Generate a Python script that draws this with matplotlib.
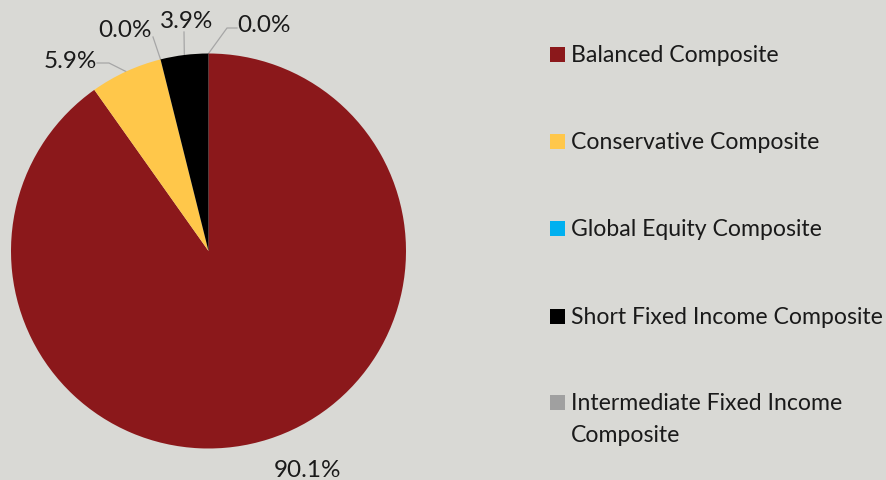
import numpy as np
import matplotlib
matplotlib.use('Agg')
import matplotlib.pyplot as plt
from matplotlib.patches import Rectangle

plt.rcParams['font.family'] = ['Lato', 'DejaVu Sans']

# Data
categories = ['Balanced Composite', 'Conservative Composite', 'Global Equity Composite',
              'Short Fixed Income Composite', 'Intermediate Fixed Income\nComposite']
shares = [90.1, 5.9, 0.0, 3.9, 0.0]
colors = ['#8b181b', '#ffc74a', '#00b0f0', '#000000', '#a0a0a0']

bg = '#d9d9d5'
fig = plt.figure(figsize=(8.87, 4.81), dpi=100, facecolor=bg)

# pie axes: centre ~ (208, 252) px, radius ~197 px
W, H = 887, 481
cx, cy, r = 208.5, 252, 197.5
ax = fig.add_axes([(cx - r) / W, (H - cy - r) / H, 2 * r / W, 2 * r / H])
ax.set_facecolor(bg)
wedges, _ = ax.pie(shares, colors=colors, startangle=90, counterclock=False,
                   radius=1, wedgeprops=dict(linewidth=0))
ax.set_xlim(-1, 1)
ax.set_ylim(-1, 1)
ax.set_aspect('equal')
ax.axis('off')

# label placement (px positions of the digit centres in the reference)
label_px = [(308, 468.5), (70, 58.5), (125.5, 28), (187, 19), (264, 22.5)]
# leader line elbows in px (None -> no line)
elbow_px = [None, [(97, 64), (109, 64)], [(153, 38)], [(184, 33)], [(237, 29), (227, 29)]]

def px2data(p):
    return ((p[0] - cx) / r, (cy - p[1]) / r)

line_col = '#a6a6a6'
for w, v, lp, el in zip(wedges, shares, label_px, elbow_px):
    x, y = px2data((lp[0], lp[1] + 2.5))
    ax.text(x, y, f'{v:.1f}%', ha='center', va='center', fontsize=17.5,
            color='#1a1a1a', clip_on=False)
    if el is None:
        continue
    mid = np.deg2rad((w.theta1 + w.theta2) / 2)
    pts = [px2data(p) for p in el] + [(np.cos(mid), np.sin(mid))]
    ax.plot([p[0] for p in pts], [p[1] for p in pts], color=line_col, lw=0.9,
            clip_on=False, zorder=0.5)

# legend drawn manually (last label wraps to two lines)
leg_y = [55, 142, 229, 317, 403]
for lab, col, yy in zip(categories, colors, leg_y):
    fig.patches.append(Rectangle((550 / W, (H - yy - 7.5) / H), 15 / W, 15 / H,
                                 transform=fig.transFigure, facecolor=col,
                                 edgecolor='none'))
    for k, line in enumerate(lab.split('\n')):
        fig.text(571 / W, (H - yy - 7 - 32 * k) / H, line, ha='left',
                 va='baseline', fontsize=16.6, color='#1a1a1a',
                 transform=fig.transFigure)

fig.savefig('out.png', dpi=100, facecolor=bg)
